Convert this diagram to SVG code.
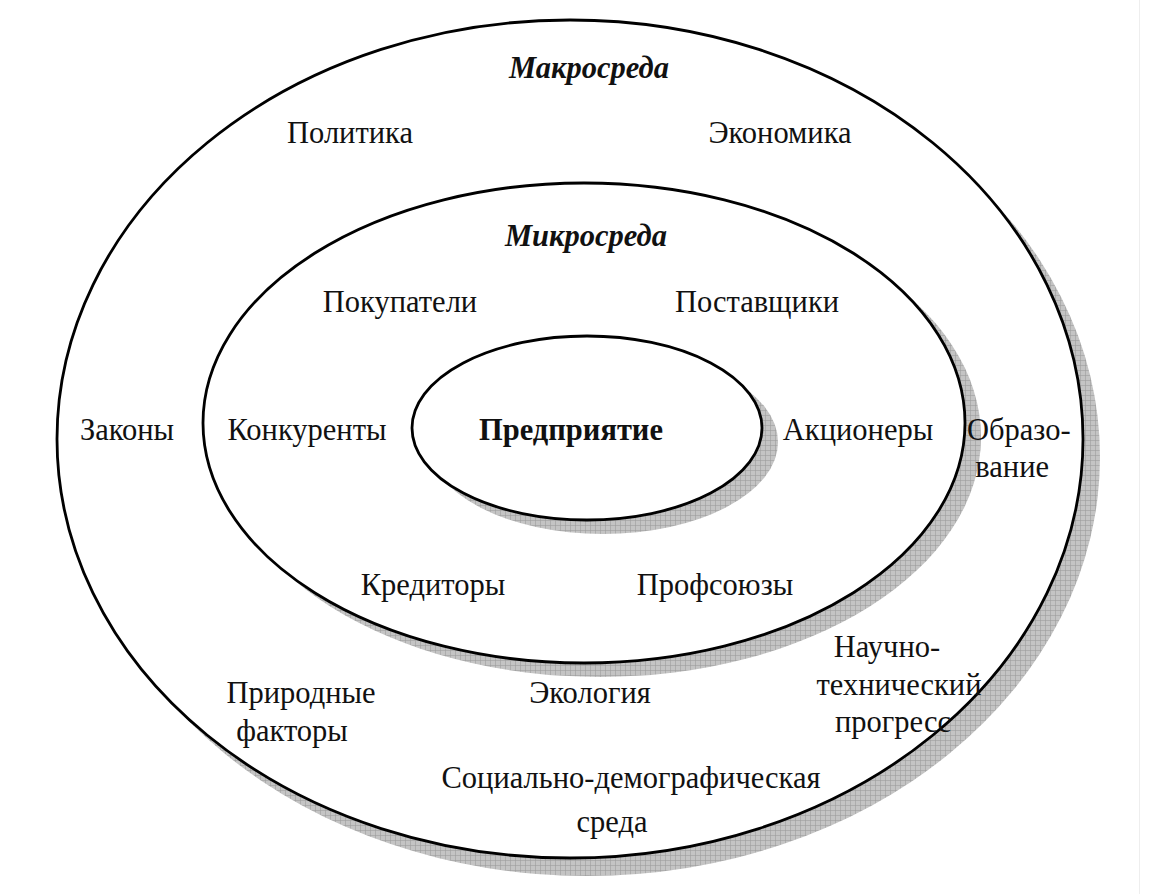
<svg xmlns="http://www.w3.org/2000/svg" width="1168" height="894" viewBox="0 0 1168 894">
<defs>
<pattern id="grid" width="5" height="5" patternUnits="userSpaceOnUse">
<rect width="5" height="5" fill="#c4c4c4"/>
<path d="M0 0.3H5M0.3 0V5" stroke="#9a9a9a" stroke-width="0.7" fill="none"/>
</pattern>
</defs>
<style>
.shadow{fill:url(#grid);stroke:none}
.ring{fill:#fff;stroke:#000;stroke-width:2.8}
text{font-family:"Liberation Serif","Times New Roman",serif;font-size:30.5px;fill:#111;text-anchor:middle}
.title{font-weight:bold;font-style:italic}
.core{font-weight:bold}
.st{text-anchor:start}
.en{text-anchor:end}
</style>
<rect width="1168" height="894" fill="#fff"/>
<line x1="1139.5" y1="0" x2="1139.5" y2="894" stroke="#eeeeee" stroke-width="1"/>
<g id="macro">
<ellipse class="shadow" cx="587" cy="457" rx="513" ry="419"/>
<ellipse class="ring" cx="570" cy="439" rx="513" ry="419"/>
</g>
<g id="micro">
<ellipse class="shadow" cx="600" cy="437" rx="381" ry="240"/>
<ellipse class="ring" cx="584" cy="423" rx="381" ry="240"/>
</g>
<g id="enterprise">
<ellipse class="shadow" cx="603" cy="442" rx="175" ry="92"/>
<ellipse class="ring" cx="587" cy="428" rx="175" ry="92"/>
<text class="core" x="571" y="440">Предприятие</text>
</g>
<g id="macro-labels">
<text class="title" x="589" y="78">Макросреда</text>
<text x="350" y="143">Политика</text>
<text x="780" y="143">Экономика</text>
<text x="127" y="440">Законы</text>
<text class="st" x="967" y="440">Образо-</text>
<text class="en" x="1049" y="477">вание</text>
<text x="887" y="657">Научно-</text>
<text x="899" y="695">технический</text>
<text x="893" y="732">прогресс</text>
<text x="301" y="703">Природные</text>
<text x="292" y="741">факторы</text>
<text x="590" y="703">Экология</text>
<text x="631" y="788">Социально-демографическая</text>
<text x="612" y="832">среда</text>
</g>
<g id="micro-labels">
<text class="title" x="586" y="246">Микросреда</text>
<text x="400" y="312">Покупатели</text>
<text x="757" y="312">Поставщики</text>
<text x="307" y="440">Конкуренты</text>
<text x="858" y="440">Акционеры</text>
<text x="433" y="595">Кредиторы</text>
<text x="715" y="595">Профсоюзы</text>
</g>
<g id="connectors"></g>
</svg>
